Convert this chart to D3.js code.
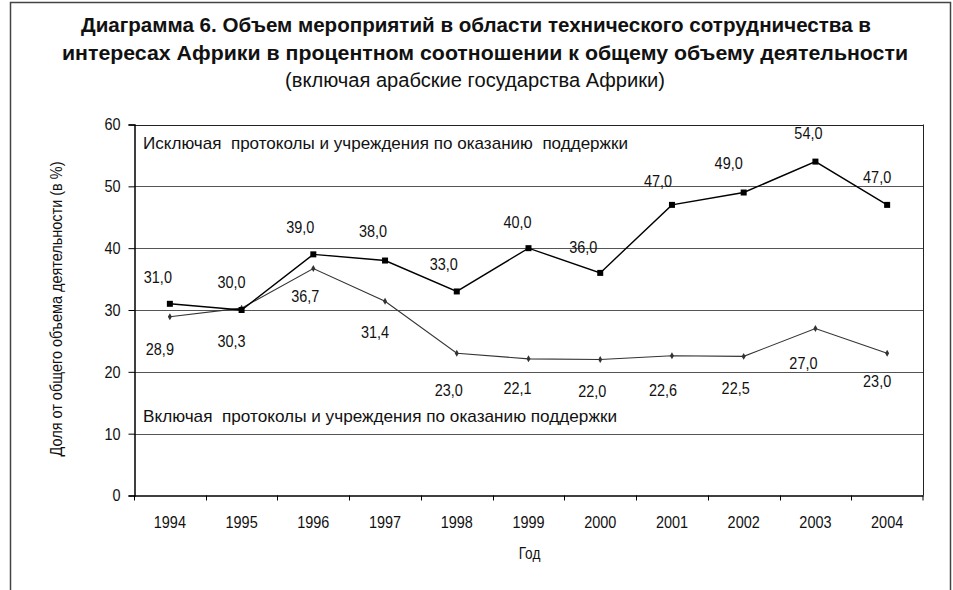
<!DOCTYPE html>
<html>
<head>
<meta charset="utf-8">
<script src="https://cdn.jsdelivr.net/npm/d3@7"></script>
<style>
  body { margin: 0; background: #fff; }
  svg { display: block; font-family: "Liberation Sans", Arial, sans-serif; }
</style>
</head>
<body>
<div id="chart"></div>
<script>
// data
const years = ["1994", "1995", "1996", "1997", "1998", "1999", "2000", "2001", "2002", "2003", "2004"];
const excluding = [31.0, 30.0, 39.0, 38.0, 33.0, 40.0, 36.0, 47.0, 49.0, 54.0, 47.0];
const including = [28.9, 30.3, 36.7, 31.4, 23.0, 22.1, 22.0, 22.6, 22.5, 27.0, 23.0];
const yTicks = [0, 10, 20, 30, 40, 50, 60];

// where each value label sits relative to its point (dx, dy)
const exclLabelOffset = [[-12,-27],[-10,-28],[-13,-27],[-12,-29],[-13,-27],[-11,-26],[-17,-26],[-14,-24],[-15,-29],[-7,-29],[-10,-28]];
const inclLabelOffset = [[-10,32],[-10,33],[-8,27],[-10,31],[-8,37],[-11,29],[-8,32],[-9,34],[-8,32],[-12,34],[-10,28]];

const W = 953, H = 590;
const plotLeft = 134, plotRight = 923, plotTop = 124.5, plotBottom = 495.5;

// the original uses a narrow face; squeeze Liberation Sans horizontally
function narrow(sel, k) {
  sel.each(function () {
    const w = this.getComputedTextLength();
    d3.select(this).attr("textLength", w * k).attr("lengthAdjust", "spacingAndGlyphs");
  });
}

const svg = d3.select("#chart").append("svg")
  .attr("width", W).attr("height", H);

// outer frame
svg.append("path")
  .attr("d", "M10.5,600 V2.5 H950.5 V600")
  .attr("fill", "none").attr("stroke", "#444").attr("stroke-width", 1.5);

// titles
const title = svg.append("g").attr("text-anchor", "middle").attr("fill", "#111");
title.append("text").attr("x", 476).attr("y", 32)
  .attr("font-size", 20).attr("font-weight", "bold")
  .attr("textLength", 790).attr("lengthAdjust", "spacingAndGlyphs")
  .text("Диаграмма 6. Объем мероприятий в области технического сотрудничества в");
title.append("text").attr("x", 485).attr("y", 60)
  .attr("font-size", 20).attr("font-weight", "bold")
  .attr("textLength", 846).attr("lengthAdjust", "spacingAndGlyphs")
  .text("интересах Африки в процентном соотношении к общему объему деятельности");
title.append("text").attr("x", 475).attr("y", 87)
  .attr("font-size", 20)
  .attr("textLength", 380).attr("lengthAdjust", "spacingAndGlyphs")
  .text("(включая арабские государства Африки)");

const x = d3.scaleBand().domain(years).range([plotLeft, plotRight]);
const y = d3.scaleLinear().domain([0, 60]).range([plotBottom, plotTop]);
const cx = d => x(d) + x.bandwidth() / 2;

// gridlines
svg.append("g").selectAll("line")
  .data(yTicks.filter(t => t > 0))
  .join("line")
  .attr("x1", plotLeft).attr("x2", plotRight)
  .attr("y1", d => Math.round(y(d)) + 0.5).attr("y2", d => Math.round(y(d)) + 0.5)
  .attr("stroke", d => d === 60 ? "#222" : "#555").attr("stroke-width", 1);

// right edge of plot area
svg.append("line")
  .attr("x1", plotRight + 0.5).attr("x2", plotRight + 0.5)
  .attr("y1", plotTop).attr("y2", plotBottom)
  .attr("stroke", "#222");

// y axis
const yAxis = svg.append("g")
  .attr("transform", `translate(${plotLeft + 0.5},0)`)
  .call(d3.axisLeft(y).tickValues(yTicks).tickSize(6).tickPadding(8));
yAxis.select(".domain").attr("stroke", "#000").attr("stroke-width", 1.5);
yAxis.selectAll("text").attr("font-size", 17).attr("fill", "#111")
  .attr("font-family", "Liberation Sans, Arial, sans-serif")
  .call(narrow, 0.85);

// x axis: labels at centres, ticks on category edges
const xAxis = svg.append("g")
  .attr("transform", `translate(0,${plotBottom})`)
  .call(d3.axisBottom(x).tickSize(0).tickPadding(20));
xAxis.select(".domain").attr("stroke", "#000").attr("stroke-width", 1.5);
xAxis.selectAll("text").attr("font-size", 17).attr("fill", "#111")
  .attr("font-family", "Liberation Sans, Arial, sans-serif")
  .call(narrow, 0.85);
svg.append("g").selectAll("line")
  .data(years.concat(["end"]))
  .join("line")
  .attr("x1", d => d === "end" ? plotRight : Math.round(x(d)) + 0.5)
  .attr("x2", d => d === "end" ? plotRight : Math.round(x(d)) + 0.5)
  .attr("y1", plotBottom).attr("y2", plotBottom + 5)
  .attr("stroke", "#000");

// axis titles
svg.append("text")
  .attr("transform", "translate(62,309) rotate(-90)")
  .attr("text-anchor", "middle").attr("font-size", 16).attr("fill", "#111")
  .attr("textLength", 295).attr("lengthAdjust", "spacingAndGlyphs")
  .text("Доля от общего объема деятельности (в %)");
svg.append("text")
  .attr("x", (plotLeft + plotRight) / 2 + 1).attr("y", 559)
  .attr("text-anchor", "middle").attr("font-size", 16).attr("fill", "#111")
  .text("Год")
  .call(narrow, 0.85);

// series
const line = d3.line().x((d, i) => cx(years[i])).y(d => y(d));

svg.append("path").datum(including)
  .attr("d", line).attr("fill", "none")
  .attr("stroke", "#333").attr("stroke-width", 1.1);
svg.append("g").selectAll("path")
  .data(including)
  .join("path")
  .attr("d", d3.symbol(d3.symbolDiamond, 14))
  .attr("transform", (d, i) => `translate(${cx(years[i])},${y(d)})`)
  .attr("fill", "#333");

svg.append("path").datum(excluding)
  .attr("d", line).attr("fill", "none")
  .attr("stroke", "#000").attr("stroke-width", 1.4);
svg.append("g").selectAll("rect")
  .data(excluding)
  .join("rect")
  .attr("x", (d, i) => cx(years[i]) - 3).attr("y", d => y(d) - 3)
  .attr("width", 6).attr("height", 6)
  .attr("fill", "#000");

// value labels
const fmt = v => v.toFixed(1).replace(".", ",");
svg.append("g").selectAll("text")
  .data(excluding)
  .join("text")
  .attr("x", (d, i) => cx(years[i]) + exclLabelOffset[i][0])
  .attr("y", (d, i) => y(d) + exclLabelOffset[i][1])
  .attr("dy", "0.35em").attr("text-anchor", "middle")
  .attr("font-size", 17).attr("fill", "#111")
  .text(fmt)
  .call(narrow, 0.85);
svg.append("g").selectAll("text")
  .data(including)
  .join("text")
  .attr("x", (d, i) => cx(years[i]) + inclLabelOffset[i][0])
  .attr("y", (d, i) => y(d) + inclLabelOffset[i][1])
  .attr("dy", "0.35em").attr("text-anchor", "middle")
  .attr("font-size", 17).attr("fill", "#111")
  .text(fmt)
  .call(narrow, 0.85);

// series captions inside the plot
svg.append("text").attr("x", 143).attr("y", 143).attr("dy", "0.35em")
  .attr("font-size", 17).attr("fill", "#111")
  .attr("textLength", 485).attr("lengthAdjust", "spacingAndGlyphs")
  .style("white-space", "pre")
  .text("Исключая  протоколы и учреждения по оказанию  поддержки");
svg.append("text").attr("x", 143).attr("y", 416).attr("dy", "0.35em")
  .attr("font-size", 17).attr("fill", "#111")
  .attr("textLength", 474).attr("lengthAdjust", "spacingAndGlyphs")
  .style("white-space", "pre")
  .text("Включая  протоколы и учреждения по оказанию поддержки");
</script>
</body>
</html>
